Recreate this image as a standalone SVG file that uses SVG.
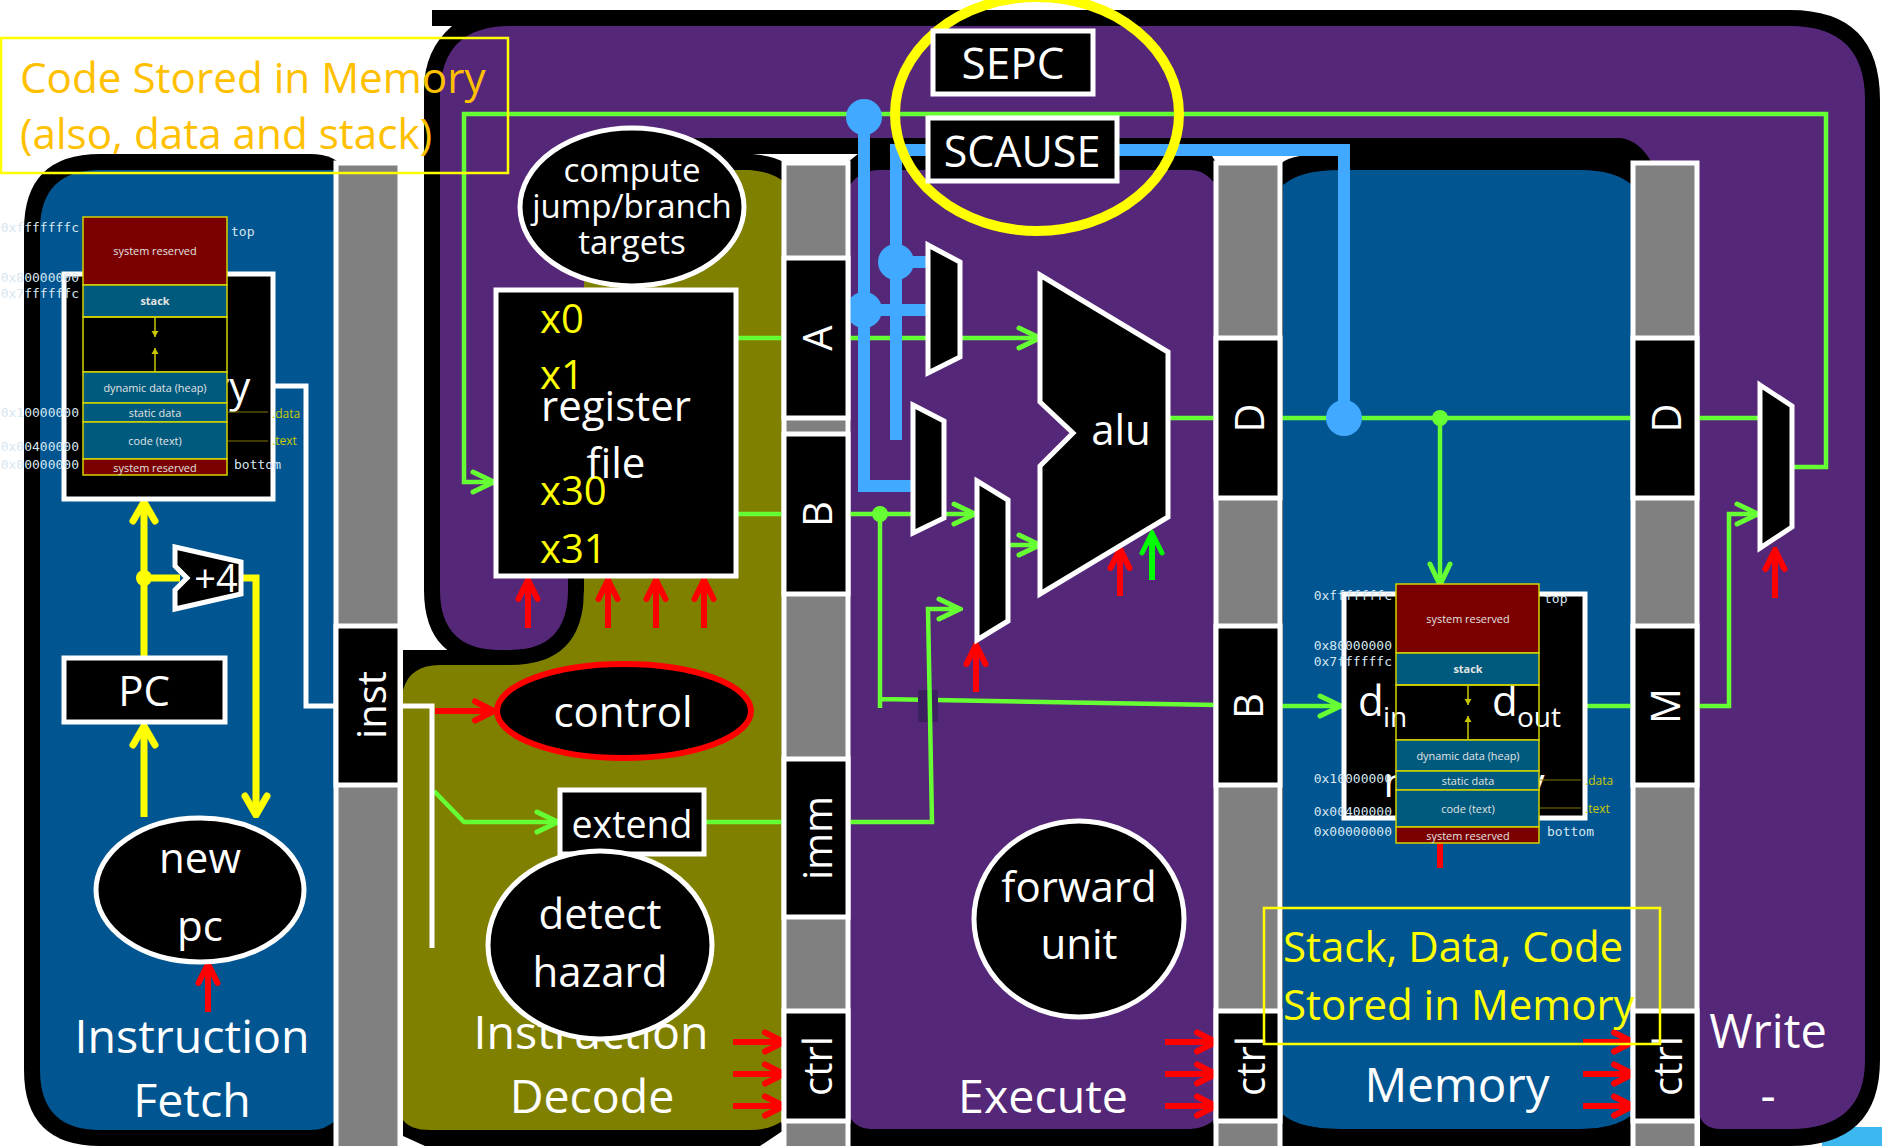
<svg xmlns="http://www.w3.org/2000/svg" width="1882" height="1146" viewBox="0 0 1882 1146">
<style>
text{font-family:"Open Sans","Liberation Sans",sans-serif;fill:#fff;text-anchor:middle}
.t40{font-size:40px}.t44{font-size:42px}.t48{font-size:46.500px}
.box{fill:#000;stroke:#fff;stroke-width:5}
.lat{fill:#808080;stroke:#fff;stroke-width:5}
.cell{fill:#000;stroke:#fff;stroke-width:5}
.g{fill:none;stroke:#66ff33;stroke-width:4.500;stroke-linejoin:miter}
.ga{marker-end:url(#ag)}
.y{fill:none;stroke:#ffff00;stroke-width:7}
.b{fill:none;stroke:#41a9ff;stroke-width:12}
.bd{fill:#41a9ff}
.r{fill:none;stroke:#ff0000;stroke-width:6;marker-end:url(#ar)}
.addr{font-family:"DejaVu Sans Mono",monospace;font-size:13px;fill:#d6e6f0;text-anchor:end}
.lbl{font-family:"DejaVu Sans Mono",monospace;font-size:13px;fill:#d6e6f0;text-anchor:start}
.ylbl{font-size:12px;fill:#cccc00;text-anchor:start}
.sec{font-size:10.900px;fill:#e4e4e4}
.reg{font-size:40px;fill:#ffff00;text-anchor:start}
.map rect{stroke:#d4d400;stroke-width:1.500}
.map line{stroke:#c8c800;stroke-width:1.500}
.map .dk{stroke:#807800;stroke-width:1}
</style>
<defs>
<marker id="ag" viewBox="-25 -13 28 26" refX="0" refY="0" markerWidth="28" markerHeight="26" markerUnits="userSpaceOnUse" orient="auto"><path d="M-21-10 0 0-21 10" fill="none" stroke="#66ff33" stroke-width="5" stroke-linecap="round"/></marker>
<marker id="agg" viewBox="-25 -13 28 26" refX="0" refY="0" markerWidth="28" markerHeight="26" markerUnits="userSpaceOnUse" orient="auto"><path d="M-20-10 0 0-20 10" fill="none" stroke="#00ff00" stroke-width="5" stroke-linecap="round"/></marker>
<marker id="ar" viewBox="-25 -14 28 28" refX="0" refY="0" markerWidth="28" markerHeight="28" markerUnits="userSpaceOnUse" orient="auto"><path d="M-19-9.500 0 0-19 9.500" fill="none" stroke="#ff0000" stroke-width="6" stroke-linecap="round"/></marker>
<marker id="ay" viewBox="-24 -16 27 32" refX="0" refY="0" markerWidth="27" markerHeight="32" markerUnits="userSpaceOnUse" orient="auto"><path d="M-19-11 0 0-19 11" fill="none" stroke="#ffff00" stroke-width="7" stroke-linecap="round"/></marker>
<marker id="aw" viewBox="-8 -5 9 10" refX="0" refY="0" markerWidth="9" markerHeight="10" markerUnits="userSpaceOnUse" orient="auto"><path d="M-6-3.500 0 0-6 3.500Z" fill="#c8c800"/></marker>
</defs>
<rect width="1882" height="1146" fill="#fff"/>
<rect x="1822" y="1127" width="60" height="19" fill="#3db7f0"/>
<g id="stage-writeback">
<path d="M432 10H1790Q1880 10 1880 100V1060Q1880 1146 1790 1146H1700V1000H850V140H584V590Q584 665 510 665H500Q424 665 424 590V90Q424 50 452 26H432Z" fill="#000"/>
<path d="M510 26H1790Q1865 26 1865 100V1060Q1865 1129 1790 1129H1720Q1697 1129 1697 1100V400H568V590Q568 650 510 650H500Q440 650 440 590V96Q440 26 510 26Z" fill="#552779"/>
</g>
<g id="stage-fetch">
<path d="M100 154H310Q336 154 345 170V1146H100Q24 1146 24 1070V230Q24 154 100 154Z" fill="#000"/>
<path d="M100 170H336V1120Q326 1130 310 1130H100Q40 1130 40 1070V230Q40 170 100 170Z" fill="#015591"/>
</g>
<g id="stage-decode">
<path d="M403 650H510Q584 650 584 590V154H760L784 164V1130L760 1146H425L403 1136Z" fill="#000"/>
<path d="M640 170H750Q772 172 784 182V1120Q770 1130 750 1130H430Q410 1130 403 1120V690Q410 665 440 665H510Q584 665 584 590V225Q584 170 640 170Z" fill="#808000"/>
</g>
<g id="stage-execute">
<path d="M600 138H1620Q1640 140 1653 165H1640V1146H850V170H600Z" fill="#000"/>
<path d="M850 185Q860 170 880 170H1190Q1205 170 1216 185V1118Q1205 1129 1190 1129H870Q858 1129 850 1118Z" fill="#552779"/>
</g>
<g id="stage-memory">
<path d="M1283 185Q1300 170 1340 170H1580Q1615 170 1632 185V1115Q1615 1129 1580 1129H1340Q1300 1129 1283 1115Z" fill="#015591"/>
<path d="M1283 1115Q1300 1129 1340 1129H1580Q1615 1129 1632 1115V1130L1610 1146H1310L1283 1134Z" fill="#000"/>
</g>
<g id="pipe-if-id">
<rect class="lat" x="336" y="163" width="64" height="1000"/>
</g>
<g id="pipe-id-ex">
<path d="M753 154H858L848 162V168H784V162Q772 156 753 154Z" fill="#fff"/>
<rect class="lat" x="784" y="163" width="64" height="1000"/>
</g>
<g id="pipe-ex-mem">
<path d="M1212 156H1300Q1287 158 1280 164V168H1216V162Z" fill="#fff"/>
<rect class="lat" x="1216" y="163" width="64" height="1000"/>
</g>
<g id="pipe-mem-wb">
<rect class="lat" x="1633" y="163" width="64" height="1000"/>
</g>
<g id="connectors">
<path class="g ga" d="M1793 467H1826V114H464V482H494"/>
<path class="g" d="M736 338H784"/>
<path class="g ga" d="M848 338H1040"/>
<path class="g" d="M736 514H784"/>
<path class="g ga" d="M848 514H975"/>
<path class="g" d="M880 514V708M880 699L1218 705"/>
<rect x="918" y="690" width="20" height="32" fill="#3d2060"/>
<path class="g ga" d="M706 822H784M848 822H932L928 609H960"/>
<path class="g ga" d="M1009 545H1040"/>
<path class="g" d="M1170 418H1218M1278 418H1635M1695 418H1758"/>
<path class="g ga" d="M1440 418V585"/>
<path class="g ga" d="M1278 706H1341"/>
<path class="g" d="M1585 706H1635"/>
<path class="g ga" d="M1695 706H1729V514H1758"/>
<path class="g ga" d="M434 791L464 822H558"/>
<circle cx="880" cy="514" r="8" fill="#66ff33"/>
<circle cx="1440" cy="418" r="8" fill="#66ff33"/>
<path class="b" d="M864 117V486H918"/>
<path class="b" d="M896 440V150H1344V418"/>
<path class="b" d="M864 310H930M896 262H930"/>
<ellipse class="bd" cx="864" cy="117" rx="18" ry="18"/>
<ellipse class="bd" cx="896" cy="262" rx="18" ry="18"/>
<ellipse class="bd" cx="864" cy="310" rx="18" ry="18"/>
<ellipse class="bd" cx="1344" cy="418" rx="18" ry="18"/>
<path class="y" d="M144 817V726" marker-end="url(#ay)"/>
<path class="y" d="M144 656V502" marker-end="url(#ay)"/>
<path class="y" d="M144 578H180"/>
<path class="y" d="M240 578H256V815" marker-end="url(#ay)"/>
<circle cx="144" cy="578" r="8" fill="#ffff00"/>
<path d="M274 386H306V706H336M400 706H432V948" fill="none" stroke="#fff" stroke-width="5"/>
<path class="r" d="M435 711H494"/>
<path class="r" d="M208 1012V964"/>
<path class="r" d="M528 628V580"/>
<path class="r" d="M608 628V580"/>
<path class="r" d="M656 628V580"/>
<path class="r" d="M704 628V580"/>
<path class="r" d="M733 1042H784"/>
<path class="r" d="M733 1074H784"/>
<path class="r" d="M733 1106H784"/>
<path class="r" d="M1165 1042H1216"/>
<path class="r" d="M1165 1074H1216"/>
<path class="r" d="M1165 1106H1216"/>
<path class="r" d="M1583 1042H1633"/>
<path class="r" d="M1583 1074H1633"/>
<path class="r" d="M1583 1106H1633"/>
<path class="r" d="M976 692V645"/>
<path class="r" d="M1120 596V549"/>
<path class="r" d="M1775 598V550"/>
<path d="M1152 580V533" fill="none" stroke="#00ff00" stroke-width="6" marker-end="url(#agg)"/>
<path d="M1440 843V868" stroke="#ff0000" stroke-width="6"/>
</g>
<g id="cells">
<g><rect class="cell" x="784" y="258" width="64" height="160"/><text class="t40" transform="translate(832 338) rotate(-90)">A</text></g>
<g><rect class="cell" x="784" y="434" width="64" height="160"/><text class="t40" transform="translate(832 514) rotate(-90)">B</text></g>
<g><rect class="cell" x="784" y="759" width="64" height="158"/><text class="t40" transform="translate(832 838) rotate(-90)">imm</text></g>
<g><rect class="cell" x="784" y="1011" width="64" height="110"/><text class="t40" transform="translate(832 1066) rotate(-90)">ctrl</text></g>
<g><rect class="cell" x="336" y="626" width="64" height="159"/><text class="t40" transform="translate(386 705) rotate(-90)">inst</text></g>
<g><rect class="cell" x="1216" y="338" width="64" height="160"/><text class="t40" transform="translate(1264 418) rotate(-90)">D</text></g>
<g><rect class="cell" x="1216" y="626" width="64" height="159"/><text class="t40" transform="translate(1263 706) rotate(-90)">B</text></g>
<g><rect class="cell" x="1216" y="1011" width="64" height="110"/><text class="t40" transform="translate(1265 1066) rotate(-90)">ctrl</text></g>
<g><rect class="cell" x="1633" y="338" width="64" height="160"/><text class="t40" transform="translate(1681 418) rotate(-90)">D</text></g>
<g><rect class="cell" x="1633" y="626" width="64" height="159"/><text class="t40" transform="translate(1680 706) rotate(-90)">M</text></g>
<g><rect class="cell" x="1633" y="1011" width="64" height="110"/><text class="t40" transform="translate(1682 1066) rotate(-90)">ctrl</text></g>
</g>
<g id="imem"><rect class="box" x="64" y="274" width="209" height="225"/><text x="168" y="402" font-size="42">memory</text></g>
<g id="imap" class="map" transform="translate(83 217)">
<rect width="144" height="68" fill="#7b0000"/><rect y="68" width="144" height="32" fill="#005a7d"/><rect y="100" width="144" height="55" fill="none"/><rect y="155" width="144" height="31" fill="#005a7d"/><rect y="186" width="144" height="19" fill="#005a7d"/><rect y="205" width="144" height="37" fill="#005a7d"/><rect y="242" width="144" height="16" fill="#7b0000"/>
<line x1="72" y1="100" x2="72" y2="120" marker-end="url(#aw)"/><line x1="72" y1="155" x2="72" y2="131" marker-end="url(#aw)"/>
<line class="dk" x1="185" y1="195" x2="145" y2="195"/><line class="dk" x1="185" y1="224" x2="145" y2="224"/>
<text class="sec" x="72" y="38">system reserved</text><text class="sec" x="72" y="88" font-weight="700">stack</text><text class="sec" x="72" y="175">dynamic data (heap)</text><text class="sec" x="72" y="200">static data</text><text class="sec" x="72" y="228">code (text)</text><text class="sec" x="72" y="255">system reserved</text>
<text class="addr" x="-4" y="15">0xfffffffc</text><text class="addr" x="-4" y="65">0x80000000</text><text class="addr" x="-4" y="81">0x7ffffffc</text><text class="addr" x="-4" y="200">0x10000000</text><text class="addr" x="-4" y="234">0x00400000</text><text class="addr" x="-4" y="252">0x00000000</text>
<text class="lbl" x="148" y="19">top</text><text class="lbl" x="151" y="252">bottom</text><text class="ylbl" x="189" y="201">.data</text><text class="ylbl" x="189" y="228">.text</text>
</g>
<g id="pc"><rect class="box" x="64" y="658" width="161" height="64"/><text class="t44" x="144" y="706">PC</text></g>
<g id="plus4"><path class="box" d="M175 547 241 562V594L175 609V590L187 578 175 566Z"/><text font-size="38" x="216" y="592">+4</text></g>
<g id="newpc"><ellipse class="box" cx="200" cy="890" rx="104" ry="72"/><text class="t44" x="200" y="873">new</text><text class="t44" x="200" y="941">pc</text></g>
<g id="if-label"><text class="t48" x="192" y="1053">Instruction</text><text class="t48" x="192" y="1117">Fetch</text></g>
<g id="targets"><ellipse class="box" cx="632" cy="207" rx="112" ry="79"/><text font-size="33" x="632" y="182">compute</text><text font-size="33" x="632" y="218">jump/branch</text><text font-size="33" x="632" y="254">targets</text></g>
<g id="regfile"><rect class="box" x="496" y="290" width="240" height="286"/>
<text class="reg" x="540" y="333">x0</text><text class="reg" x="540" y="389">x1</text><text class="reg" x="540" y="505">x30</text><text class="reg" x="540" y="563">x31</text>
<text class="t44" x="616" y="421">register</text><text class="t44" x="616" y="478">file</text></g>
<g id="id-label"><text class="t48" x="591" y="1049">Instruction</text><text class="t48" x="592" y="1113">Decode</text></g>
<g id="control"><ellipse cx="624" cy="711" rx="127" ry="47" fill="#000" stroke="#f00" stroke-width="6"/><text class="t44" x="623" y="727">control</text></g>
<g id="extend"><rect class="box" x="560" y="790" width="144" height="64"/><text font-size="37.500" x="632" y="838">extend</text></g>
<g id="hazard"><ellipse class="box" cx="600" cy="945" rx="112" ry="94"/><text class="t44" x="600" y="929">detect</text><text class="t44" x="600" y="987">hazard</text></g>
<g id="sepc-ring"><ellipse cx="1037" cy="114" rx="142" ry="117" fill="none" stroke="#ff0" stroke-width="10"/></g>
<g id="sepc"><rect class="box" x="933" y="31" width="160" height="63"/><text font-size="44" x="1013" y="79">SEPC</text></g>
<g id="scause"><rect class="box" x="928" y="118" width="189" height="63"/><text font-size="43" x="1022" y="167">SCAUSE</text></g>
<g id="mux-a"><path class="box" d="M928 245 960 262V357L928 373Z"/></g>
<g id="mux-b1"><path class="box" d="M913 405 944 421V518L913 533Z"/></g>
<g id="mux-b2"><path class="box" d="M977 481 1008 500V621L977 640Z"/></g>
<g id="alu"><path class="box" d="M1040 275 1168 352V517L1040 594V466L1073 433 1040 402Z"/><text class="t44" x="1121" y="445">alu</text></g>
<g id="forward"><ellipse class="box" cx="1079" cy="919" rx="105" ry="98"/><text class="t44" x="1079" y="902">forward</text><text class="t44" x="1079" y="959">unit</text></g>
<g id="ex-label"><text class="t48" x="1043" y="1113">Execute</text></g>
<g id="dmem"><rect class="box" x="1344" y="594" width="241" height="224"/>
<text x="1358" y="716" font-size="42" style="text-anchor:start">d</text><text x="1383" y="727" font-size="28" style="text-anchor:start">in</text>
<text x="1492" y="716" font-size="42" style="text-anchor:start">d</text><text x="1517" y="727" font-size="28" style="text-anchor:start">out</text>
<text x="1464" y="797" font-size="41">memory</text></g>
<g id="dmap" class="map" transform="translate(1396 584)">
<rect width="143" height="69" fill="#7b0000"/><rect y="69" width="143" height="32" fill="#005a7d"/><rect y="101" width="143" height="55" fill="none"/><rect y="156" width="143" height="31" fill="#005a7d"/><rect y="187" width="143" height="19" fill="#005a7d"/><rect y="206" width="143" height="37" fill="#005a7d"/><rect y="243" width="143" height="16" fill="#7b0000"/>
<line x1="72" y1="101" x2="72" y2="121" marker-end="url(#aw)"/><line x1="72" y1="156" x2="72" y2="132" marker-end="url(#aw)"/>
<line class="dk" x1="185" y1="196" x2="144" y2="196"/><line class="dk" x1="185" y1="224" x2="144" y2="224"/>
<text class="sec" x="72" y="39">system reserved</text><text class="sec" x="72" y="89" font-weight="700">stack</text><text class="sec" x="72" y="176">dynamic data (heap)</text><text class="sec" x="72" y="201">static data</text><text class="sec" x="72" y="229">code (text)</text><text class="sec" x="72" y="256">system reserved</text>
<text class="addr" x="-4" y="16">0xfffffffc</text><text class="addr" x="-4" y="66">0x80000000</text><text class="addr" x="-4" y="82">0x7ffffffc</text><text class="addr" x="-4" y="199">0x10000000</text><text class="addr" x="-4" y="232">0x00400000</text><text class="addr" x="-4" y="252">0x00000000</text>
<text class="lbl" x="148" y="19">top</text><text class="lbl" x="151" y="252">bottom</text><text class="ylbl" x="189" y="201">.data</text><text class="ylbl" x="189" y="229">.text</text>
</g>
<g id="mem-label"><text font-size="47.500" x="1457" y="1102">Memory</text></g>
<g id="mux-wb"><path class="box" d="M1760 385 1792 406V527L1760 548Z"/></g>
<g id="wb-label"><text font-size="47" x="1768" y="1048">Write</text><text font-size="47" x="1768" y="1112">-</text></g>
<g id="note-code"><rect x="1" y="38" width="507" height="135" fill="none" stroke="#ff0" stroke-width="2.500"/><text x="20" y="93" font-size="42.200" style="fill:#ffc000;text-anchor:start">Code Stored in Memory</text><text x="20" y="149" font-size="42.200" style="fill:#ffc000;text-anchor:start">(also, data and stack)</text></g>
<g id="note-stack"><rect x="1264" y="908" width="396" height="136" fill="none" stroke="#ff0" stroke-width="2.500"/><text x="1283" y="962" font-size="42" style="fill:#ff0;text-anchor:start">Stack, Data, Code</text><text x="1283" y="1020" font-size="42" style="fill:#ff0;text-anchor:start">Stored in Memory</text></g>
</svg>
